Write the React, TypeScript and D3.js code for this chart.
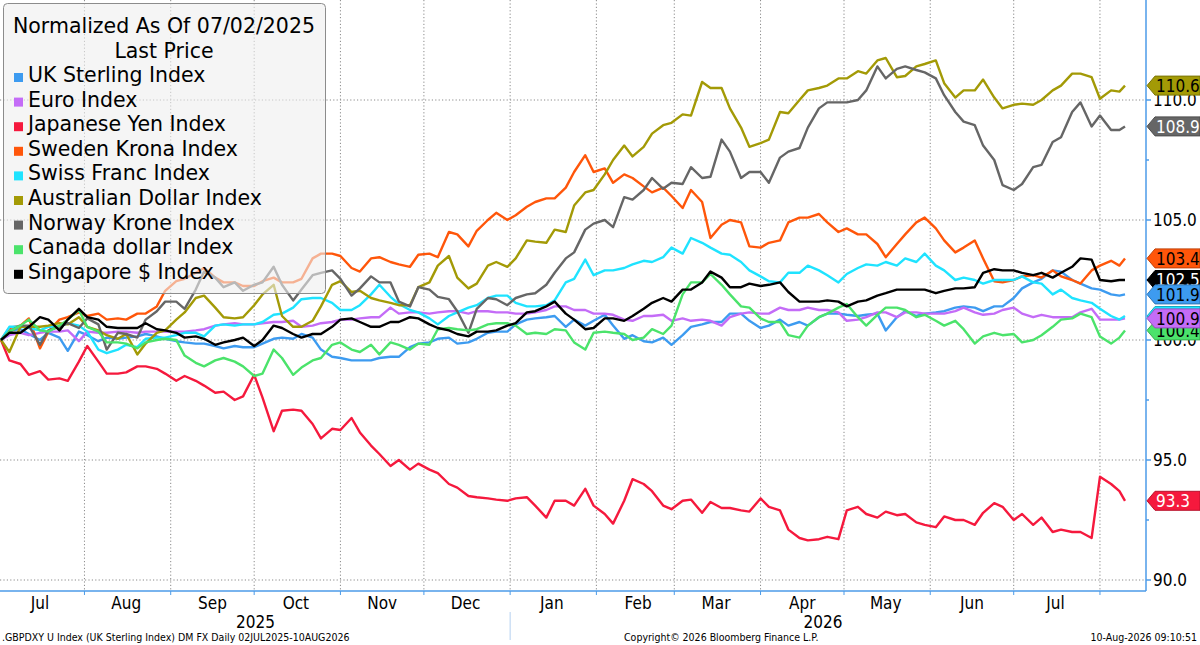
import React from 'react';
import * as d3 from 'd3';

// values, normalized to 100 on 02-Jul-2025.
// "xxx" = weekly reading, "xxxMid" = reading 3 days after it
const START = new Date(2025, 6, 2);
const END = new Date(2026, 7, 10);
const dates: Date[] = [
  ...d3.range(58).flatMap(k => [d3.timeDay.offset(START, 7 * k), d3.timeDay.offset(START, 7 * k + 3)]),
  END,
];

const ukSterling = [100, 100.45, 100.0, 100.1, 100.35, 99.95, 100.05, 100.15, 100.15, 99.95, 99.85, 99.75, 99.75, 99.7, 100.05, 100.05, 100.1, 99.3, 99.15, 99.15, 99.3, 99.7, 99.9, 100.1, 99.9, 100.3, 100.35, 100.85, 100.95, 100.55, 100.6, 101.05, 100.05, 99.95, 100.1, 100.2, 100.65, 100.75, 101.1, 100.5, 100.85, 100.75, 100.95, 101.1, 101.0, 101.1, 100.95, 101.0, 101.15, 101.35, 101.35, 101.4, 101.75, 102.4, 102.9, 102.5, 102.15, 101.9, 101.9];
const ukSterlingMid = [100.4, 100.25, 100.3, 99.55, 100.2, 100.1, 100.1, 100.25, 100.05, 99.9, 99.85, 99.65, 99.7, 99.85, 100.1, 100.25, 99.6, 99.25, 99.15, 99.25, 99.3, 99.85, 100.05, 99.85, 100.05, 100.35, 100.65, 100.9, 101.0, 100.85, 100.8, 100.6, 100.2, 99.9, 99.8, 100.55, 100.75, 101.1, 100.8, 100.6, 100.6, 100.6, 101.1, 101.05, 101.05, 100.4, 101.2, 101.1, 101.2, 101.4, 101.2, 101.4, 102.15, 102.55, 102.85, 102.35, 102.1, 101.85];

const euro = [100, 100.3, 100.3, 100.35, 99.95, 100.3, 100.35, 100.3, 100.35, 100.35, 100.4, 100.6, 100.7, 100.65, 100.75, 100.8, 100.6, 100.75, 100.85, 100.95, 101.35, 101.15, 101.1, 101.2, 101.1, 101.2, 101.15, 101.1, 101.25, 101.4, 101.25, 101.1, 100.85, 101.0, 101.05, 100.9, 100.85, 100.6, 101.1, 101.1, 101.35, 101.25, 101.25, 101.15, 100.85, 101.15, 100.95, 101.15, 101.1, 101.2, 101.15, 101.1, 101.35, 100.95, 100.95, 100.95, 101.3, 100.85, 100.9];
const euroMid = [100.2, 100.2, 100.35, 100.4, 100.35, 100.3, 100.35, 100.35, 100.35, 100.35, 100.45, 100.65, 100.65, 100.7, 100.75, 100.55, 100.7, 100.85, 100.9, 100.95, 101.1, 101.15, 101.15, 101.2, 101.2, 101.15, 101.1, 101.15, 101.4, 101.25, 101.1, 101.05, 100.8, 101.0, 100.8, 100.8, 100.8, 100.95, 101.15, 101.1, 101.25, 101.35, 101.25, 100.8, 100.95, 101.15, 101.15, 101.1, 101.1, 101.35, 101.05, 101.25, 101.1, 101.05, 100.95, 101.15, 100.85, 100.85];

const yen = [100, 99.0, 98.7, 98.4, 99.1, 99.1, 98.6, 98.9, 98.8, 98.3, 98.3, 97.8, 97.5, 98.55, 96.2, 97.1, 96.5, 96.3, 96.75, 95.6, 94.75, 94.6, 94.6, 94.0, 93.5, 93.4, 93.3, 93.45, 92.6, 93.3, 93.8, 92.75, 93.3, 94.0, 93.1, 93.3, 92.8, 93.0, 92.9, 93.4, 92.9, 91.75, 91.7, 91.7, 93.05, 92.6, 92.7, 92.4, 92.2, 92.5, 92.3, 93.2, 92.5, 92.3, 92.0, 92.0, 91.75, 94.0, 93.3];
const yenMid = [99.15, 98.55, 98.35, 98.3, 99.75, 98.6, 98.65, 98.9, 98.6, 98.5, 98.1, 97.85, 97.65, 97.6, 97.05, 97.05, 95.9, 96.25, 96.15, 95.25, 95.0, 94.85, 94.45, 93.85, 93.45, 93.35, 93.4, 93.1, 93.3, 93.1, 93.1, 92.35, 94.2, 93.7, 92.95, 93.35, 93.25, 93.0, 92.85, 93.05, 92.1, 91.65, 91.8, 92.9, 92.75, 92.85, 92.75, 92.3, 92.65, 92.5, 92.8, 93.05, 92.75, 92.6, 92.1, 92.0, 94.3, 93.7];

const swedenKrona = [100, 100.6, 99.65, 100.85, 101.15, 101.1, 100.9, 101.1, 101.4, 102.45, 102.8, 102.6, 102.4, 102.25, 102.6, 102.4, 103.4, 103.6, 103.0, 103.4, 103.25, 103.05, 103.6, 104.5, 103.9, 105.0, 105.0, 105.55, 105.9, 106.35, 107.7, 107.15, 106.9, 106.4, 106.35, 105.5, 105.75, 104.8, 104.9, 103.85, 104.15, 105.1, 105.25, 104.5, 104.4, 104.0, 104.0, 104.9, 104.65, 103.65, 104.15, 102.45, 102.5, 102.7, 102.9, 102.5, 102.9, 103.3, 103.4];
const swedenKronaMid = [100.5, 100.9, 100.35, 100.95, 101.0, 100.85, 100.85, 101.1, 102.05, 102.55, 103.0, 102.4, 102.25, 102.45, 102.4, 102.55, 103.6, 103.5, 102.85, 103.45, 103.15, 103.55, 103.45, 104.4, 104.55, 105.3, 105.2, 105.75, 105.9, 107.0, 107.0, 106.55, 106.75, 106.15, 106.0, 106.25, 104.25, 105.0, 103.9, 104.05, 104.9, 105.1, 104.9, 104.65, 104.4, 103.45, 104.4, 105.1, 104.15, 103.85, 103.4, 102.4, 102.65, 102.6, 102.65, 102.35, 103.1, 103.1];

const swissFranc = [100, 100.55, 100.4, 100.55, 100.6, 99.6, 99.6, 99.7, 100.1, 100.2, 100.3, 100.6, 100.6, 100.65, 101.05, 101.35, 101.75, 101.55, 101.25, 101.9, 101.8, 101.25, 100.9, 101.0, 101.35, 101.75, 101.85, 101.4, 101.45, 102.4, 103.35, 102.9, 103.0, 103.3, 103.45, 103.6, 104.05, 103.6, 103.25, 102.65, 102.4, 102.8, 102.9, 102.4, 103.0, 103.1, 103.1, 103.25, 103.1, 102.5, 102.5, 102.5, 102.5, 102.4, 101.9, 101.75, 101.55, 101.0, 101.0];
const swissFrancMid = [100.55, 100.5, 100.55, 100.7, 100.35, 99.45, 99.8, 100.05, 100.1, 100.3, 100.15, 100.65, 100.65, 100.75, 101.1, 101.7, 101.75, 101.25, 101.45, 102.3, 101.5, 101.15, 100.65, 101.15, 101.45, 101.85, 101.55, 101.4, 101.65, 102.55, 102.7, 102.9, 103.15, 103.25, 103.85, 104.25, 103.85, 103.55, 102.9, 102.45, 102.8, 103.1, 102.7, 102.75, 103.15, 103.25, 103.4, 103.6, 102.9, 102.6, 102.35, 102.5, 102.65, 102.35, 102.1, 101.65, 101.3, 100.85];

const ausDollar = [100, 100.55, 100.55, 100.7, 100.95, 100.4, 100.05, 99.4, 100.3, 100.85, 101.75, 101.35, 100.9, 101.45, 102.3, 100.55, 100.8, 102.3, 102.0, 101.75, 101.55, 101.45, 102.4, 103.5, 102.15, 103.1, 103.05, 104.15, 104.05, 104.5, 106.15, 106.9, 108.1, 108.05, 108.95, 109.4, 110.75, 110.5, 108.85, 108.2, 109.5, 110.0, 110.5, 110.9, 111.2, 111.65, 110.95, 111.4, 111.65, 110.1, 110.4, 110.1, 109.8, 109.8, 110.4, 111.1, 110.95, 110.4, 110.6];
const ausDollarMid = [99.5, 100.55, 100.6, 100.65, 100.55, 100.2, 100.25, 99.85, 100.4, 101.15, 101.85, 100.95, 100.95, 101.9, 101.0, 100.55, 101.4, 102.45, 102.05, 101.65, 101.45, 102.2, 103.1, 102.6, 102.35, 103.25, 103.4, 104.1, 104.6, 105.6, 106.25, 107.5, 107.65, 108.6, 109.05, 109.35, 110.5, 109.65, 108.05, 108.35, 109.45, 110.4, 110.6, 110.9, 111.1, 111.75, 111.0, 111.5, 110.7, 110.4, 110.85, 109.65, 109.85, 110.0, 110.6, 111.1, 110.05, 110.35];

const norwayKrone = [100, 100.6, 99.8, 100.55, 100.5, 100.65, 100.3, 100.1, 101.2, 101.6, 102.1, 102.6, 102.4, 102.3, 103.05, 101.65, 102.7, 102.9, 101.85, 102.65, 102.4, 101.4, 102.1, 101.7, 100.3, 101.75, 101.45, 101.9, 102.3, 103.4, 104.6, 105.0, 105.95, 106.25, 106.3, 106.5, 106.75, 108.35, 106.75, 107.0, 107.6, 108.0, 109.65, 109.9, 110.0, 111.4, 111.3, 111.25, 110.9, 109.5, 108.95, 107.5, 106.25, 107.2, 108.25, 109.5, 108.9, 108.75, 108.9];
const norwayKroneMid = [100.35, 100.6, 100.4, 100.7, 100.9, 99.6, 100.25, 100.85, 101.6, 101.3, 102.85, 102.2, 102.05, 102.4, 102.3, 102.1, 102.8, 102.55, 102.15, 102.4, 101.6, 102.2, 101.8, 101.2, 101.3, 101.7, 101.75, 101.95, 102.8, 103.65, 104.85, 104.7, 105.85, 106.75, 106.55, 107.2, 106.8, 107.85, 107.0, 106.55, 107.85, 108.85, 109.9, 109.9, 110.4, 110.9, 111.4, 111.15, 110.2, 109.1, 108.1, 106.45, 106.5, 107.3, 108.45, 109.9, 109.35, 108.75];

const canadaDollar = [100, 100.6, 100.4, 100.6, 101.25, 100.35, 99.9, 99.65, 100.0, 100.0, 99.05, 99.15, 99.1, 98.5, 99.6, 98.55, 99.15, 99.8, 99.6, 99.8, 99.9, 99.6, 99.8, 100.5, 100.4, 100.65, 100.7, 100.25, 100.25, 100.4, 99.6, 100.35, 100.25, 100.1, 100.25, 101.9, 102.4, 102.3, 101.4, 100.9, 100.75, 100.1, 100.95, 101.35, 100.95, 101.05, 101.35, 100.95, 100.8, 100.8, 99.85, 100.3, 100.25, 100.0, 100.55, 100.9, 100.95, 99.85, 100.4];
const canadaDollarMid = [100.35, 100.85, 100.35, 100.85, 100.55, 99.9, 99.85, 99.9, 100.05, 99.35, 98.9, 99.25, 98.9, 98.6, 99.25, 98.85, 99.25, 99.9, 99.5, 99.4, 99.8, 99.85, 100.45, 100.45, 100.45, 100.7, 100.6, 100.3, 100.45, 99.9, 100.3, 100.3, 100.0, 100.45, 100.6, 102.4, 102.75, 101.9, 101.35, 100.75, 100.2, 100.6, 101.1, 101.5, 100.6, 101.35, 101.25, 101.05, 100.6, 100.45, 100.15, 100.2, 99.9, 100.2, 100.85, 101.1, 100.15, 100.1];

const singapore = [100, 100.3, 100.95, 100.4, 101.3, 100.85, 100.5, 100.5, 100.45, 100.3, 100.15, 99.8, 100.0, 99.75, 100.6, 100.25, 100.25, 100.55, 100.9, 100.55, 100.75, 100.95, 100.65, 100.4, 100.15, 100.35, 100.6, 101.15, 101.4, 101.1, 100.45, 100.9, 100.8, 101.3, 101.75, 102.1, 102.4, 102.6, 102.2, 102.25, 102.4, 101.6, 101.6, 101.6, 101.6, 101.85, 102.1, 102.1, 101.95, 102.15, 102.2, 102.95, 102.9, 102.7, 102.6, 103.05, 103.35, 102.45, 102.5];
const singaporeMid = [100.3, 100.55, 100.85, 100.85, 100.95, 100.55, 100.5, 100.7, 100.4, 100.1, 100.05, 99.9, 100.1, 100.0, 100.5, 100.1, 100.25, 100.85, 100.75, 100.55, 100.75, 100.9, 100.5, 100.25, 100.35, 100.4, 100.7, 101.2, 101.6, 100.85, 100.5, 100.9, 101.0, 101.55, 101.6, 102.1, 102.85, 102.2, 102.35, 102.3, 102.0, 101.6, 101.65, 101.4, 101.65, 101.95, 102.1, 102.1, 102.05, 102.15, 102.8, 102.9, 102.8, 102.8, 102.8, 103.4, 102.5, 102.5];

const yTicks = [90, 95, 100, 105, 110];

// weekly + mid-week readings in date order
const interleave = (w: number[], m: number[]) => w.flatMap((v, i) => (i < m.length ? [v, m[i]] : [v]));

interface Series {
  name: string;
  color: string;
  textColor: string;
  values: number[];
}

const series: Series[] = [
  { name: 'UK Sterling Index', color: '#3d9bf0', textColor: '#000', values: interleave(ukSterling, ukSterlingMid) },
  { name: 'Euro Index', color: '#c46cf7', textColor: '#000', values: interleave(euro, euroMid) },
  { name: 'Japanese Yen Index', color: '#f5193d', textColor: '#fff', values: interleave(yen, yenMid) },
  { name: 'Sweden Krona Index', color: '#ff560a', textColor: '#000', values: interleave(swedenKrona, swedenKronaMid) },
  { name: 'Swiss Franc Index', color: '#1fe3ff', textColor: '#000', values: interleave(swissFranc, swissFrancMid) },
  { name: 'Australian Dollar Index', color: '#a39a06', textColor: '#000', values: interleave(ausDollar, ausDollarMid) },
  { name: 'Norway Krone Index', color: '#666666', textColor: '#fff', values: interleave(norwayKrone, norwayKroneMid) },
  { name: 'Canada dollar Index', color: '#4be36b', textColor: '#000', values: interleave(canadaDollar, canadaDollarMid) },
  { name: 'Singapore $ Index', color: '#000000', textColor: '#fff', values: interleave(singapore, singaporeMid) },
];

// order the last-value tags are stacked in (later = on top)
const tagOrder = ['Japanese Yen Index', 'Australian Dollar Index', 'Norway Krone Index', 'Sweden Krona Index', 'Swiss Franc Index', 'Singapore $ Index', 'UK Sterling Index', 'Canada dollar Index', 'Euro Index'];

const FONT = "'DejaVu Sans Condensed', 'DejaVu Sans', Verdana, sans-serif";
const LEGEND_FONT = "'DejaVu Sans', Verdana, sans-serif";
const W = 1200;
const H = 645;
const PLOT_R = 1146;
const PLOT_B = 591;
const AXIS = '#4c9be8';

const App: React.FC = () => {
  const x = d3.scaleTime().domain([START, END]).range([1, 1125]);
  const y = d3.scaleLinear().domain([90, 110]).range([580, 100]);

  const line = d3
    .line<number>()
    .x((_, i) => x(dates[i]))
    .y(v => y(v));

  const monthStarts = d3.timeMonth.range(d3.timeMonth.ceil(START), END);
  const months = d3.timeMonth.range(d3.timeMonth.floor(START), d3.timeMonth.floor(END));
  const minorTicks = d3.range(90, 110.01, 2.5);
  const jan1 = new Date(2026, 0, 1);
  const fmt = d3.timeFormat('%b');

  return (
    <svg width={W} height={H} style={{ position: 'absolute', left: 0, top: 0, background: '#fff' }} fontFamily={FONT}>
      {/* grid */}
      {yTicks.map(t => (
        <line key={'gy' + t} x1={0} x2={PLOT_R} y1={y(t)} y2={y(t)} stroke="#8a8a8a" strokeWidth={1} strokeDasharray="1.2,2.2" />
      ))}
      {monthStarts.map(d => (
        <line key={'gx' + d.getTime()} x1={x(d)} x2={x(d)} y1={0} y2={PLOT_B} stroke="#8a8a8a" strokeWidth={1} strokeDasharray="1.2,2.2" />
      ))}

      {/* series */}
      {series.map(s => (
        <path key={s.name} d={line(s.values) ?? ''} fill="none" stroke={s.color} strokeWidth={2.4} strokeLinejoin="round" />
      ))}

      {/* axes */}
      <line x1={0} x2={PLOT_R} y1={PLOT_B} y2={PLOT_B} stroke={AXIS} strokeWidth={1.5} />
      <line x1={PLOT_R} x2={PLOT_R} y1={0} y2={PLOT_B} stroke={AXIS} strokeWidth={1.5} />
      {monthStarts.map(d => (
        <line key={'tx' + d.getTime()} x1={x(d)} x2={x(d)} y1={PLOT_B} y2={PLOT_B + 4} stroke={AXIS} strokeWidth={1} />
      ))}
      {minorTicks.map(t => (
        <line key={'ty' + t} x1={PLOT_R} x2={PLOT_R + (t % 5 === 0 ? 5 : 3)} y1={y(t)} y2={y(t)} stroke={AXIS} strokeWidth={1.5} />
      ))}
      {yTicks.map(t => (
        <text key={'ly' + t} x={PLOT_R + 7} y={y(t)} dy="0.35em" fontSize={17} fill="#000">
          {t.toFixed(1)}
        </text>
      ))}
      {months.map(m => {
        const mid = m < START ? new Date(2025, 6, 16) : new Date(m.getFullYear(), m.getMonth(), 16);
        return (
          <text key={'lm' + m.getTime()} x={x(mid)} y={609} textAnchor="middle" fontSize={17} fill="#000">
            {fmt(m)}
          </text>
        );
      })}
      <text x={(x(START) + x(jan1)) / 2} y={628} textAnchor="middle" fontSize={17} fill="#000">2025</text>
      <text x={(x(jan1) + PLOT_R) / 2 - 5} y={628} textAnchor="middle" fontSize={17} fill="#000">2026</text>
      <line x1={x(jan1)} x2={x(jan1)} y1={612} y2={640} stroke="#b4d0f0" strokeWidth={1} />

      {/* last value tags */}
      {tagOrder.map(n => {
        const s = series.find(d => d.name === n)!;
        const last = s.values[s.values.length - 1];
        const cy = y(last);
        const x0 = PLOT_R + 1;
        const h = 19;
        return (
          <g key={'tag' + n}>
            <path
              d={`M${x0},${cy} L${x0 + 8},${cy - h / 2} L${W},${cy - h / 2} L${W},${cy + h / 2} L${x0 + 8},${cy + h / 2} Z`}
              fill={s.color}
              stroke={d3.color(s.color)!.darker(0.8).formatHex()}
              strokeWidth={1}
            />
            <text x={x0 + 9} y={cy} dy="0.36em" fontSize={17} fill={s.textColor}>
              {last.toFixed(1)}
            </text>
          </g>
        );
      })}

      {/* legend */}
      <g fontFamily={LEGEND_FONT}>
        <rect x={3.5} y={3.5} width={322} height={290} rx={4} fill="#efefef" fillOpacity={0.6} stroke="#8c8c8c" strokeWidth={1} />
        <text x={164} y={33} textAnchor="middle" fontSize={20.5} fill="#000">Normalized As Of 07/02/2025</text>
        <text x={164} y={58} textAnchor="middle" fontSize={20.5} fill="#000">Last Price</text>
        {series.map((s, i) => (
          <g key={'lg' + s.name}>
            <rect x={14} y={73 + i * 24.6} width={9} height={9} fill={s.color} />
            <text x={28} y={82 + i * 24.6} fontSize={20.5} fill="#000">{s.name}</text>
          </g>
        ))}
      </g>

      {/* footer */}
      <text x={2} y={641} fontSize={10.5} fill="#000">.GBPDXY U Index (UK Sterling Index) DM FX Daily 02JUL2025-10AUG2026</text>
      <text x={624} y={641} fontSize={10.5} fill="#000">Copyright© 2026 Bloomberg Finance L.P.</text>
      <text x={1197} y={641} textAnchor="end" fontSize={10.5} fill="#000">10-Aug-2026 09:10:51</text>
    </svg>
  );
};

export default App;
